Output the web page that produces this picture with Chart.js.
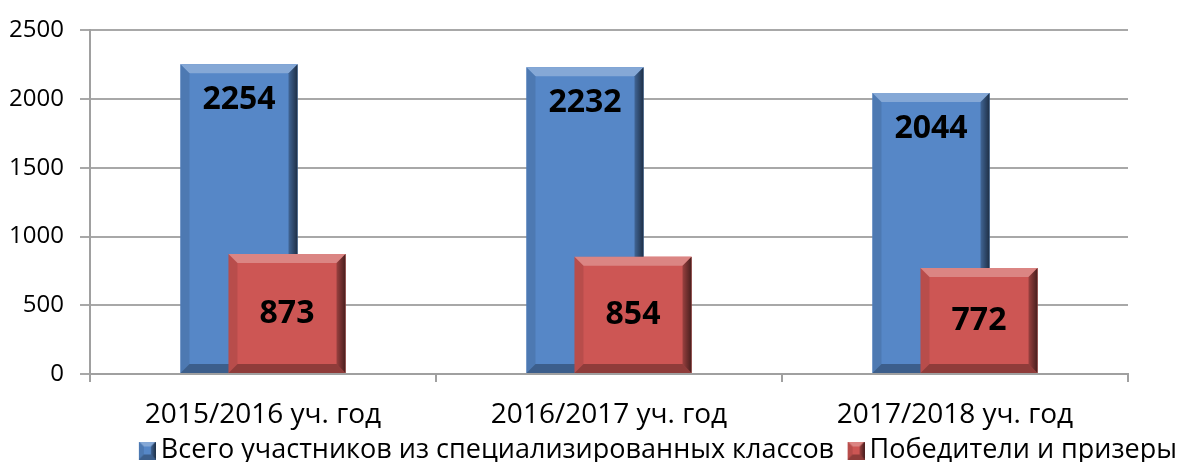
<!DOCTYPE html>
<html>
<head>
<meta charset="utf-8">
<script src="https://cdn.jsdelivr.net/npm/chart.js@4"></script>
<style>
  body { margin: 0; background: #fff; }
  #wrap { width: 1186px; height: 462px; }
</style>
</head>
<body>
<div id="wrap"><canvas id="grafico" width="1186" height="462"></canvas></div>
<script>
const categorias = ['2015/2016 уч. год', '2016/2017 уч. год', '2017/2018 уч. год'];
const vsegoUchastnikov = [2254, 2232, 2044];
const pobediteli = [873, 854, 772];
const nomesSeries = ['Всего участников из специализированных классов', 'Победители и призеры'];

const corAzul = '#5687c7';
const corVermelho = '#cd5654';
const fonte = "'Open Sans', sans-serif";

Chart.defaults.font.family = fonte;
Chart.defaults.color = '#000';

// desenha o chanfro 3D por cima de um retangulo
function chanfro(ctx, x0, y0, x1, y1, b) {
  ctx.save();
  // topo claro
  ctx.fillStyle = 'rgba(255,255,255,0.28)';
  ctx.beginPath();
  ctx.moveTo(x0, y0); ctx.lineTo(x1, y0); ctx.lineTo(x1 - b, y0 + b); ctx.lineTo(x0 + b, y0 + b);
  ctx.closePath(); ctx.fill();
  // esquerda
  ctx.fillStyle = 'rgba(0,0,0,0.10)';
  ctx.beginPath();
  ctx.moveTo(x0, y0); ctx.lineTo(x0 + b, y0 + b); ctx.lineTo(x0 + b, y1 - b); ctx.lineTo(x0, y1);
  ctx.closePath(); ctx.fill();
  // direita escura
  let g = ctx.createLinearGradient(x1 - b, 0, x1, 0);
  g.addColorStop(0, 'rgba(0,0,0,0.25)');
  g.addColorStop(1, 'rgba(0,0,0,0.65)');
  ctx.fillStyle = g;
  ctx.beginPath();
  ctx.moveTo(x1, y0); ctx.lineTo(x1, y1); ctx.lineTo(x1 - b, y1 - b); ctx.lineTo(x1 - b, y0 + b);
  ctx.closePath(); ctx.fill();
  // base
  ctx.fillStyle = 'rgba(0,0,0,0.30)';
  ctx.beginPath();
  ctx.moveTo(x0, y1); ctx.lineTo(x0 + b, y1 - b); ctx.lineTo(x1 - b, y1 - b); ctx.lineTo(x1, y1);
  ctx.closePath(); ctx.fill();
  ctx.restore();
}

// caixa da legenda: 34px de largura, quadrado na metade direita (aproxima o texto)
function caixaLegenda(cor) {
  let c = document.createElement('canvas');
  c.width = 34; c.height = 18;
  let cx = c.getContext('2d');
  cx.fillStyle = cor;
  cx.fillRect(17, 0, 17, 18);
  chanfro(cx, 17, 0, 34, 18, 5);
  return c;
}

const caixas = [caixaLegenda(corAzul), caixaLegenda(corVermelho)];

// redesenha as barras em ordem (vermelha por cima), com chanfro e rotulos
const pluginBarras = {
  id: 'barras3d',
  afterDatasetsDraw(chart) {
    let ctx = chart.ctx;
    ctx.save();
    ctx.beginPath();
    ctx.rect(chart.chartArea.left, 0, chart.chartArea.width, chart.chartArea.bottom);
    ctx.clip();
    for (let d = 0; d < chart.data.datasets.length; d++) {
      let meta = chart.getDatasetMeta(d);
      meta.data.forEach(function (barra) {
        barra.draw(ctx, chart.chartArea);
        let p = barra.getProps(['x', 'y', 'base', 'width'], true);
        let x0 = p.x - p.width / 2, x1 = p.x + p.width / 2;
        chanfro(ctx, x0, p.y, x1, p.base, 9);
      });
    }
    ctx.restore();

    ctx.save();
    ctx.font = 'bold 32px ' + fonte;
    ctx.fillStyle = '#000';
    ctx.textAlign = 'center';
    ctx.textBaseline = 'middle';
    for (let d = 0; d < chart.data.datasets.length; d++) {
      let meta = chart.getDatasetMeta(d);
      let valores = chart.data.datasets[d].data;
      meta.data.forEach(function (barra, i) {
        let p = barra.getProps(['x', 'y', 'base'], true);
        let y = d === 0 ? p.y + 36 : (p.y + p.base) / 2;
        ctx.fillText(String(valores[i]), p.x, y);
      });
    }
    ctx.restore();
  }
};

new Chart(document.getElementById('grafico'), {
  type: 'bar',
  data: {
    labels: categorias,
    datasets: [
      { label: nomesSeries[0], data: vsegoUchastnikov, backgroundColor: corAzul },
      { label: nomesSeries[1], data: pobediteli, backgroundColor: corVermelho }
    ]
  },
  options: {
    responsive: false,
    animation: false,
    categoryPercentage: 0.2775,
    barPercentage: 2.4375,
    layout: { padding: { top: 27, right: 4, left: 0, bottom: -12 } },
    scales: {
      x: {
        grid: { offset: true, drawOnChartArea: false, tickLength: 8, color: '#a0a0a0', lineWidth: 2 },
        border: { color: '#a0a0a0', width: 2 },
        ticks: { font: { size: 28 }, padding: 16 },
        afterFit: function (scale) { scale.height = 58; }
      },
      y: {
        min: 0,
        max: 2500,
        ticks: { stepSize: 500, font: { size: 24 }, padding: 16, callback: function (v) { return String(v); } },
        grid: { color: '#a8a8a8', lineWidth: 2, tickLength: 10 },
        border: { color: '#a0a0a0', width: 2 },
        afterFit: function (scale) { scale.width = 90; }
      },
      // eixo vazio a direita, so para reservar a margem do grafico
      margem: {
        type: 'linear',
        position: 'right',
        display: true,
        grid: { display: false },
        border: { display: false },
        ticks: { display: false },
        afterFit: function (scale) { scale.width = 54; }
      }
    },
    plugins: {
      tooltip: { enabled: false },
      legend: {
        position: 'bottom',
        align: 'end',
        labels: {
          font: { size: 27 },
          usePointStyle: true,
          pointStyleWidth: 17,
          padding: 5,
          generateLabels: function (chart) {
            return chart.data.datasets.map(function (ds, i) {
              return { text: ds.label, pointStyle: caixas[i], fillStyle: ds.backgroundColor, strokeStyle: ds.backgroundColor, lineWidth: 0, datasetIndex: i, hidden: false };
            });
          }
        }
      }
    }
  },
  plugins: [pluginBarras]
});
</script>
</body>
</html>
